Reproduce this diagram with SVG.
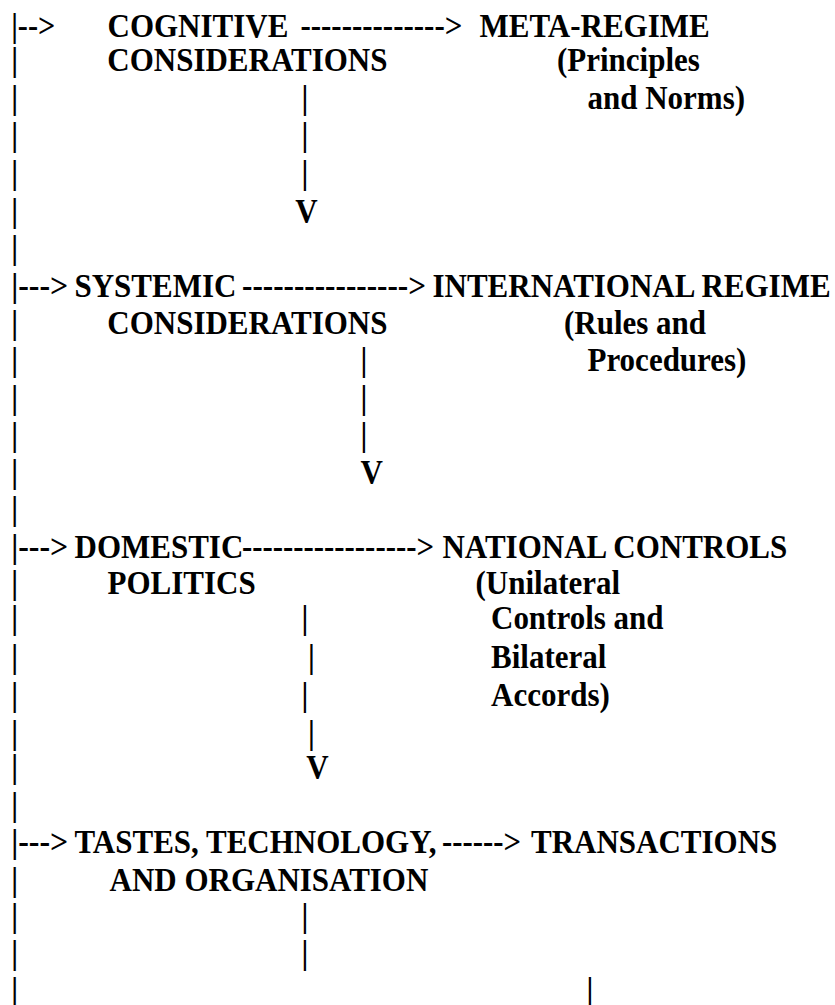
<svg xmlns="http://www.w3.org/2000/svg" width="835" height="1005" viewBox="0 0 835 1005">
<style>
text{font-family:"Liberation Serif","Times New Roman",serif;font-weight:bold;font-size:31px;fill:#000}
</style>
<rect width="835" height="1005" fill="#fff"/>
<g transform="scale(1 1.06)">
<g id="connectors">
<text x="11.2" y="34.6" textLength="44" lengthAdjust="spacingAndGlyphs">|--&gt;</text>
<text x="300.4" y="34.6" textLength="162" lengthAdjust="spacingAndGlyphs">--------------&gt;</text>
<text x="11.2" y="66.7">|</text>
<text x="11.2" y="102.8">|</text><text x="301.4" y="102.8">|</text>
<text x="11.2" y="137.7">|</text><text x="301.4" y="137.7">|</text>
<text x="11.2" y="173.6">|</text><text x="301.4" y="173.6">|</text>
<text x="11.2" y="209.2">|</text><text x="295.3" y="209.2">V</text>
<text x="11.2" y="244.3">|</text>
<text x="11.2" y="279.9" textLength="57" lengthAdjust="spacingAndGlyphs">|---&gt;</text>
<text x="242" y="279.9" textLength="184" lengthAdjust="spacingAndGlyphs">----------------&gt;</text>
<text x="11.2" y="315.1">|</text>
<text x="11.2" y="350.0">|</text><text x="360.6" y="350.0">|</text>
<text x="11.2" y="385.4">|</text><text x="360.6" y="385.4">|</text>
<text x="11.2" y="420.8">|</text><text x="360.6" y="420.8">|</text>
<text x="11.2" y="455.4">|</text><text x="360.5" y="455.4">V</text>
<text x="11.2" y="490.6">|</text>
<text x="11.2" y="526.1" textLength="57" lengthAdjust="spacingAndGlyphs">|---&gt;</text>
<text x="242" y="526.1" textLength="192" lengthAdjust="spacingAndGlyphs">-----------------&gt;</text>
<text x="11.2" y="560.4">|</text>
<text x="11.2" y="593.4">|</text><text x="301.4" y="593.4">|</text>
<text x="11.2" y="630.2">|</text><text x="308" y="630.2">|</text>
<text x="11.2" y="666.0">|</text><text x="301.4" y="666.0">|</text>
<text x="11.2" y="701.9">|</text><text x="308" y="701.9">|</text>
<text x="11.2" y="734.0">|</text><text x="306.3" y="734.0">V</text>
<text x="11.2" y="769.8">|</text>
<text x="11.2" y="804.7" textLength="57" lengthAdjust="spacingAndGlyphs">|---&gt;</text>
<text x="442" y="804.7" textLength="79" lengthAdjust="spacingAndGlyphs">------&gt;</text>
<text x="11.2" y="840.3">|</text>
<text x="11.2" y="874.5">|</text><text x="301.4" y="874.5">|</text>
<text x="11.2" y="909.4">|</text><text x="301.4" y="909.4">|</text>
<text x="11.2" y="944.3">|</text><text x="586.6" y="944.3">|</text>
</g>
<g id="cognitive">
<text x="107.5" y="34.6">COGNITIVE</text>
<text x="107.3" y="66.7">CONSIDERATIONS</text>
</g>
<g id="meta-regime">
<text x="479.5" y="34.6">META-REGIME</text>
<text x="557" y="66.7">(Principles</text>
<text x="587.5" y="102.8">and Norms)</text>
</g>
<g id="systemic">
<text x="74.5" y="279.9">SYSTEMIC</text>
<text x="107.3" y="315.1">CONSIDERATIONS</text>
</g>
<g id="international-regime">
<text x="432.5" y="279.9">INTERNATIONAL REGIME</text>
<text x="564" y="315.1">(Rules and</text>
<text x="587.5" y="350.0">Procedures)</text>
</g>
<g id="domestic">
<text x="74.5" y="526.1">DOMESTIC</text>
<text x="107.5" y="560.4">POLITICS</text>
</g>
<g id="national-controls">
<text x="442.5" y="526.1">NATIONAL CONTROLS</text>
<text x="475.5" y="560.4">(Unilateral</text>
<text x="491" y="593.4">Controls and</text>
<text x="491" y="630.2">Bilateral</text>
<text x="491" y="666.0">Accords)</text>
</g>
<g id="tastes">
<text x="74.5" y="804.7">TASTES, TECHNOLOGY,</text>
<text x="109.5" y="840.3">AND ORGANISATION</text>
</g>
<g id="transactions">
<text x="531" y="804.7">TRANSACTIONS</text>
</g>
</g>
</svg>
